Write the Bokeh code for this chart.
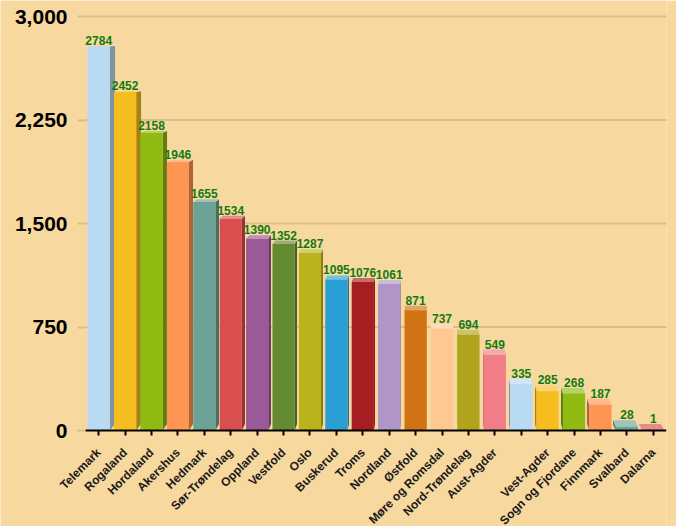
import numpy as np
from bokeh.plotting import figure
from bokeh.models import ColumnDataSource, Range1d, FixedTicker, NumeralTickFormatter
from bokeh.embed import file_html
from bokeh.resources import INLINE
from bokeh.core.properties import value

# ---------------- data ----------------
regions = ["Telemark", "Rogaland", "Hordaland", "Akershus", "Hedmark", "Sør-Trøndelag",
           "Oppland", "Vestfold", "Oslo", "Buskerud", "Troms", "Nordland", "Østfold",
           "Møre og Romsdal", "Nord-Trøndelag", "Aust-Agder", "", "Vest-Agder",
           "Sogn og Fjordane", "Finnmark", "Svalbard", "Dalarna"]
counts = [2784, 2452, 2158, 1946, 1655, 1534, 1390, 1352, 1287, 1095, 1076, 1061,
          871, 737, 694, 549, 335, 285, 268, 187, 28, 1]
palette = ["#B8DAF3", "#F5BE1E", "#8FBB12", "#FF9553", "#6CA396", "#D94F50",
           "#9A5A99", "#648A32", "#BBB31D", "#2A9FD6", "#A61E22", "#B095C7",
           "#D07315", "#FEC893", "#B0A51D", "#F07D88"]
y_ticks = [0, 750, 1500, 2250, 3000]

BG = "#F7D89E"
GRID = "#DCBD88"

W, H = 676, 526
BL, BR, BT = 85, 10, 16   # pixel edges of the bar area (left, right margin, top)
AXIS_Y = 430              # pixel row of the value baseline
Y_MAX = 3000

n = len(counts)
xc = np.arange(n, dtype=float)
vals = np.array(counts, dtype=float)
colors = [palette[i % len(palette)] for i in range(n)]

px_x = n / (W - BR - BL)
px_y = Y_MAX / (AXIS_Y - BT)
x_min = -0.5 - BL * px_x          # plot area continues left of the first bar (room for names)
y_min = -(H - AXIS_Y) * px_y      # plot area continues below the baseline (room for names)
y_top = Y_MAX + BT * px_y         # and above the top tick (room for its label)


def shade(hexcol, f):
    h = hexcol.lstrip("#")
    r, g, b = (int(h[i:i + 2], 16) for i in (0, 2, 4))
    if f < 1:
        r, g, b = (int(c * f) for c in (r, g, b))
    else:
        t = f - 1
        r, g, b = (int(c + (255 - c) * t) for c in (r, g, b))
    return "#%02x%02x%02x" % (r, g, b)


# simple perspective (in data units)
hw = 0.42
xv, yv, k = 12.9, 2900.0, 0.016


def back(x, y):
    return x + k * (xv - x), y + k * (yv - y)


front_xs, front_ys, side_xs, side_ys, side_c, top_xs, top_ys, top_c = [], [], [], [], [], [], [], []
for c, v, col in zip(xc, vals, colors):
    x0, x1 = c - hw, c + hw
    front_xs.append([x0, x1, x1, x0])
    front_ys.append([0, 0, v, v])
    if x1 < xv:
        sx = x1
    elif x0 > xv:
        sx = x0
    else:
        sx = None
    if sx is not None:
        bx_t, by_t = back(sx, v)
        bx_b, by_b = back(sx, 0)
        side_xs.append([sx, sx, bx_t, bx_b])
        side_ys.append([0, v, by_t, by_b])
        side_c.append(shade(col, 0.68))
    a = back(x0, v)
    b = back(x1, v)
    top_xs.append([x0, x1, b[0], a[0]])
    top_ys.append([v, v, b[1], a[1]])
    top_c.append(shade(col, 1.35))

label_y = [v + k * (yv - v) for v in vals]

p = figure(width=W, height=H, output_backend="svg", toolbar_location=None,
           x_range=Range1d(x_min, n - 0.5), y_range=Range1d(y_min, y_top),
           min_border_left=0, min_border_right=BR, min_border_top=0, min_border_bottom=0)
p.background_fill_color = BG
p.border_fill_color = BG
p.outline_line_color = None

# horizontal grid lines over the bar area only
g_ticks = y_ticks[1:]
p.segment(x0=[-0.5] * len(g_ticks), y0=g_ticks, x1=[n - 0.5 + 2 * px_x] * len(g_ticks),
          y1=g_ticks, line_color=GRID, line_width=2)
p.xgrid.grid_line_color = None
p.ygrid.grid_line_color = None

p.patches(xs=side_xs, ys=side_ys, fill_color=side_c, line_color=None)
p.patches(xs=top_xs, ys=top_ys, fill_color=top_c, line_color=None)
p.patches(xs=front_xs, ys=front_ys, fill_color=colors, line_color=None)

# value labels
src = ColumnDataSource(dict(x=xc, y=label_y, t=[str(c) for c in counts]))
p.text(x="x", y="y", text="t", source=src, text_align="center", text_baseline="bottom",
       y_offset=-1, text_font=value("Liberation Sans"), text_font_style="bold",
       text_font_size="12px", text_color="#137A13")

# category axis, pinned at value 0
xa = p.xaxis[0]
xa.fixed_location = 0
xa.bounds = (-0.5, n - 0.5)
xa.ticker = FixedTicker(ticks=list(xc))
xa.major_label_overrides = {i: name for i, name in enumerate(regions)}
xa.major_label_orientation = np.pi / 4
xa.axis_line_color = "#000000"
xa.axis_line_width = 2
xa.major_tick_in = 0
xa.major_tick_out = 5
xa.major_tick_line_color = "#000000"
xa.major_tick_line_width = 2
xa.minor_tick_line_color = None
xa.major_label_text_font = "Liberation Sans"
xa.major_label_text_font_style = "bold"
xa.major_label_text_font_size = "12px"
xa.major_label_text_color = "#1a1a1a"
xa.major_label_standoff = 15

# value axis, pinned at the left edge of the bars
ya = p.yaxis[0]
ya.fixed_location = -0.5
ya.ticker = FixedTicker(ticks=y_ticks)
ya.formatter = NumeralTickFormatter(format="0,0")
ya.bounds = (0, Y_MAX)
ya.axis_line_color = None
ya.major_tick_in = 0
ya.major_tick_out = 8
ya.major_tick_line_color = GRID
ya.major_tick_line_width = 2
ya.minor_tick_line_color = None
ya.major_label_text_font = "Liberation Sans"
ya.major_label_text_font_style = "bold"
ya.major_label_text_font_size = "21px"
ya.major_label_text_color = "#000000"
ya.major_label_standoff = 10

open("out.html", "w").write(file_html(p, INLINE))
